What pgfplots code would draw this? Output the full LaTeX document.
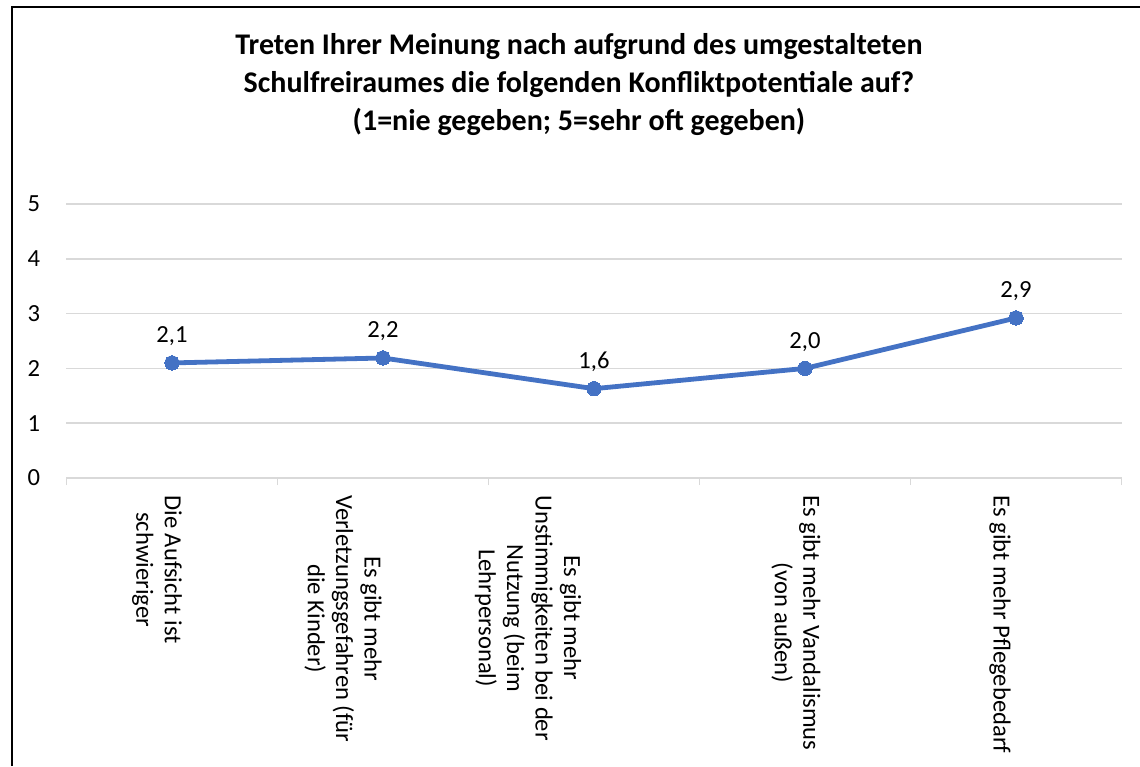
\documentclass[border=0pt]{standalone}
\usepackage{fontspec}
\setmainfont{Carlito}
\usepackage{pgfplots}
\pgfplotsset{compat=1.18}
\pgfkeys{/pgf/number format/assume math mode=true}
\definecolor{linec}{HTML}{4472C4}
\definecolor{gridc}{HTML}{D9D9D9}
\begin{document}
\begin{tikzpicture}
\useasboundingbox (0,0) rectangle (570pt,383pt);
\draw[line width=1pt] (6pt,0) -- (6pt,379.5pt) -- (570pt,379.5pt);
\node[align=center, font=\fontsize{15}{19}\selectfont\bfseries] at (289.5pt,340.5pt)
  {Treten Ihrer Meinung nach aufgrund des umgestalteten\\Schulfreiraumes die folgenden Konfliktpotentiale auf?\\(1=nie gegeben; 5=sehr oft gegeben)};
\begin{axis}[
  at={(33.25pt,144pt)}, anchor=south west,
  scale only axis, width=527.5pt, height=137pt,
  xmin=-0.5, xmax=4.5, ymin=0, ymax=5,
  clip=false,
  axis x line*=bottom, axis y line*=left,
  x axis line style={-, draw=gridc, line width=0.75pt},
  y axis line style={draw=none},
  ytick={0,1,2,3,4,5},
  ymajorgrids, grid style={draw=gridc, line width=0.75pt},
  ytick style={draw=none},
  xtick={0,1,2,3,4},
  minor xtick={-0.5,0.5,1.5,2.5,3.5,4.5},
  major tick length=0pt, minor tick length=3.5pt,
  tick align=outside,
  minor x tick style={draw=gridc, line width=0.75pt},
  xticklabels={{Die Aufsicht ist\\schwieriger},{Es gibt mehr\\Verletzungsgefahren (für\\die Kinder)},{Es gibt mehr\\Unstimmigkeiten bei der\\Nutzung (beim\\Lehrpersonal)},{Es gibt mehr Vandalismus\\(von außen)},{Es gibt mehr Pflegebedarf}},
  xticklabel style={xshift={{-7.5,-20,-33,-4.5,-8}[\ticknum]}, rotate=-90, anchor=west, align=center, inner sep=0pt,
    font=\fontsize{12.3}{14.2}\selectfont},
  xticklabel shift=8.5pt,
  yticklabel style={anchor=east, inner sep=0pt, font=\fontsize{12.3}{14}\selectfont},
  yticklabel shift=13pt,
  nodes near coords={\pgfmathprintnumber[fixed,fixed zerofill,precision=1,use comma]{\pgfplotspointmeta}},
  nodes near coords style={anchor=south, inner sep=0pt, yshift=8.5pt, font=\fontsize{12.3}{14}\selectfont, text=black},
]
\addplot[linec, line width=2.4pt, mark=*, mark size=3.6pt, mark options={fill=linec, draw=linec, line width=0pt}]
  coordinates {(0,2.1) (1,2.19) (2,1.63) (3,2.0) (4,2.92)};
\end{axis}
\end{tikzpicture}
\end{document}
